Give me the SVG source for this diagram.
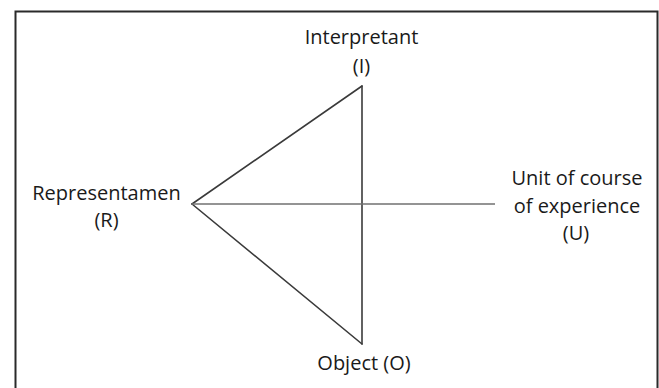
<svg xmlns="http://www.w3.org/2000/svg" width="659" height="388" viewBox="0 0 659 388">
<style>
.lbl{font-family:"Open Sans","Noto Sans","Liberation Sans",sans-serif;font-size:20px;fill:#1a1a1a;text-anchor:middle}
.edge{stroke:#3a3a3a;stroke-width:1.6;fill:none;stroke-linecap:round}
.axis{stroke:#707070;stroke-width:1.4;fill:none}
</style>
<rect x="0" y="0" width="659" height="388" fill="#ffffff"/>
<path d="M15.5,400 V11.5 H657.5 V400" fill="none" stroke="#2a2a2a" stroke-width="2"/>
<g id="connectors">
<line class="edge" x1="192" y1="204" x2="362" y2="86"/>
<line class="edge" x1="192" y1="204" x2="362" y2="344"/>
<line class="edge" x1="362" y1="86" x2="362" y2="344"/>
<line class="axis" x1="192" y1="204" x2="495" y2="204"/>
</g>
<g id="interpretant">
<text class="lbl" x="361.5" y="43.5">Interpretant</text>
<text class="lbl" x="361.5" y="73">(I)</text>
</g>
<g id="representamen">
<text class="lbl" x="106.5" y="199.5">Representamen</text>
<text class="lbl" x="106.5" y="227">(R)</text>
</g>
<g id="unit">
<text class="lbl" x="577" y="185">Unit of course</text>
<text class="lbl" x="577" y="212.5">of experience</text>
<text class="lbl" x="576" y="240">(U)</text>
</g>
<g id="object">
<text class="lbl" x="364" y="369.5">Object (O)</text>
</g>
</svg>
